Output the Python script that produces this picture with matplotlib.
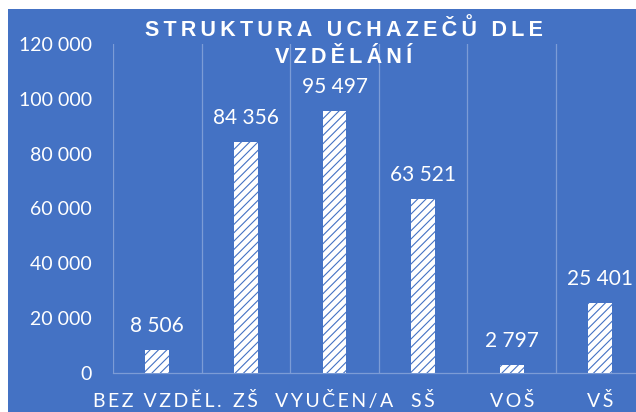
import matplotlib
matplotlib.use('Agg')
import matplotlib.pyplot as plt
import numpy as np
from matplotlib.patches import Rectangle

categories = ["BEZ VZDĚL.", "ZŠ", "VYUČEN/A", "SŠ", "VOŠ", "VŠ"]
values = [8506, 84356, 95497, 63521, 2797, 25401]
title_lines = ["STRUKTURA UCHAZEČŮ DLE", "VZDĚLÁNÍ"]
y_ticks = [0, 20000, 40000, 60000, 80000, 100000, 120000]

BLUE = '#4472C4'
GRID = '#7C9CD6'
THIN = '\u2009'

plt.rcParams['font.family'] = ['Lato', 'DejaVu Sans']
plt.rcParams['hatch.linewidth'] = 0.8

W, H = 636, 412


def spaced(s):
    return THIN.join(s)


def fmt(v):
    return f"{v:,}".replace(',', ' ')


fig = plt.figure(figsize=(W / 100, H / 100), dpi=100, facecolor='white')
fig.patches.append(Rectangle((7.5 / W, 0), 1.2, 1 - 8.5 / H, transform=fig.transFigure,
                             facecolor=BLUE, edgecolor='none', zorder=-10))

ax = fig.add_axes([113 / W, 39 / H, 531.6 / W, 329 / H])
ax.set_facecolor('none')
x = np.arange(len(categories))
ax.bar(x, values, width=0.27, facecolor='white', edgecolor=BLUE, linewidth=0,
       hatch='////', zorder=3)
ax.set_xlim(-0.5, len(categories) - 0.5)
ax.set_ylim(0, 120000)

ax.set_xticks(x)
ax.set_xticklabels([])
ax.set_xticks(np.arange(len(categories) + 1) - 0.5, minor=True)
ax.grid(which='minor', axis='x', color=GRID, linewidth=0.9, zorder=1)
ax.tick_params(axis='x', which='both', length=0)

ax.set_yticks(y_ticks)
ax.set_yticklabels([fmt(t) for t in y_ticks])
ax.tick_params(axis='y', length=0, pad=15, labelcolor='white', labelsize=14)

for s in ['top', 'right', 'left']:
    ax.spines[s].set_visible(False)
ax.spines['bottom'].set_color(GRID)
ax.spines['bottom'].set_linewidth(0.9)

for i, v in enumerate(values):
    ax.annotate(fmt(v), (i, v), xytext=(0, 13), textcoords='offset points',
                ha='center', va='baseline', color='white', fontsize=15)

for i, c in enumerate(categories):
    ax.annotate(spaced(c), (i, 0), xycoords=('data', 'axes fraction'),
                xytext=(0, -24.5), textcoords='offset points',
                ha='center', va='baseline', color='white', fontsize=14,
                annotation_clip=False)

baselines = [36, 63]
for line, yb in zip(title_lines, baselines):
    fig.text(344 / W, 1 - yb / H, spaced(line), ha='center', va='baseline',
             color='white', fontsize=15.5, fontweight='bold',
             family=['Liberation Sans', 'DejaVu Sans'])

fig.savefig('out.png', dpi=100, facecolor='white')
